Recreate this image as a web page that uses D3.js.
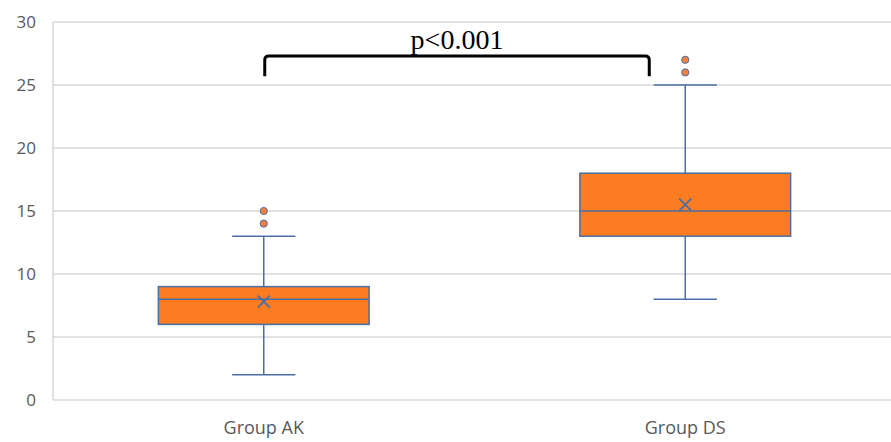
<!DOCTYPE html>
<html>
<head>
<meta charset="utf-8">
<script src="https://cdn.jsdelivr.net/npm/d3@7"></script>
<style>
  body { margin: 0; background: #fff; }
  svg text { font-family: "Open Sans", "Liberation Sans", sans-serif; }
</style>
</head>
<body>
<svg id="chart" width="891" height="442"></svg>
<script>
// box plot summary values
const groups = ["Group AK", "Group DS"];
const whiskerLow = [2, 8];
const q1 = [6, 13];
const median = [8, 15];
const q3 = [9, 18];
const whiskerHigh = [13, 25];
const means = [7.8, 15.5];
const outliers = [[14, 15], [26, 27]];
const yTicks = [0, 5, 10, 15, 20, 25, 30];
const pLabel = "p<0.001";

const margin = {top: 22, left: 53, bottom: 42};
const width = 843, height = 442 - margin.top - margin.bottom;

const svg = d3.select("#chart");
const g = svg.append("g").attr("transform", `translate(${margin.left},${margin.top})`);

const x = d3.scaleBand().domain(groups).range([0, width]).paddingInner(0).paddingOuter(0);
const y = d3.scaleLinear().domain([0, 30]).range([height, 0]);

// gridlines
g.append("g").selectAll("line").data(yTicks).join("line")
    .attr("x1", 0).attr("x2", width)
    .attr("y1", d => y(d)).attr("y2", d => y(d))
    .attr("stroke", "#d9d9d9").attr("stroke-width", 1.5);

g.append("line").attr("x1", 0).attr("x2", 0).attr("y1", 0).attr("y2", height)
    .attr("stroke", "#d9d9d9").attr("stroke-width", 1.5);

const yAxis = d3.axisLeft(y).tickValues(yTicks).tickSize(0).tickPadding(17);
g.append("g").call(yAxis)
    .call(s => s.select(".domain").remove())
    .selectAll("text").attr("fill", "#595959").attr("font-size", 17);

const xAxis = d3.axisBottom(x).tickSize(0).tickPadding(21);
g.append("g").attr("transform", `translate(0,${height})`).call(xAxis)
    .call(s => s.select(".domain").remove())
    .selectAll("text").attr("fill", "#595959").attr("font-size", 18);

const blue = "#4a6fa5", orange = "#fb7c21";
const boxW = x.bandwidth() * 0.5, capW = x.bandwidth() * 0.15;

groups.forEach((grp, i) => {
    const cx = x(grp) + x.bandwidth() / 2;
    const box = g.append("g");
    box.append("line").attr("x1", cx).attr("x2", cx)
        .attr("y1", y(whiskerLow[i])).attr("y2", y(whiskerHigh[i]))
        .attr("stroke", blue).attr("stroke-width", 1.5);
    [whiskerLow[i], whiskerHigh[i]].forEach(v => {
        box.append("line").attr("x1", cx - capW / 2).attr("x2", cx + capW / 2)
            .attr("y1", y(v)).attr("y2", y(v))
            .attr("stroke", blue).attr("stroke-width", 1.5);
    });
    box.append("rect").attr("x", cx - boxW / 2).attr("width", boxW)
        .attr("y", y(q3[i])).attr("height", y(q1[i]) - y(q3[i]))
        .attr("fill", orange).attr("stroke", blue).attr("stroke-width", 1.5);
    box.append("line").attr("x1", cx - boxW / 2).attr("x2", cx + boxW / 2)
        .attr("y1", y(median[i])).attr("y2", y(median[i]))
        .attr("stroke", blue).attr("stroke-width", 1.5);
    const my = y(means[i]), s = 6;
    box.append("path")
        .attr("d", `M${cx - s},${my - s}L${cx + s},${my + s}M${cx - s},${my + s}L${cx + s},${my - s}`)
        .attr("stroke", blue).attr("stroke-width", 1.8);
    box.selectAll("circle").data(outliers[i]).join("circle")
        .attr("cx", cx).attr("cy", d => y(d)).attr("r", 3.6)
        .attr("fill", "#f08040").attr("stroke", blue).attr("stroke-width", 1);
});

// significance bracket
const bx1 = x(groups[0]) + x.bandwidth() / 2 + 1;
const bx2 = x(groups[1]) + x.bandwidth() / 2 - 36;
const by = y(27.3), bb = y(25.7);
g.append("path")
    .attr("d", `M${bx1},${bb}L${bx1},${by + 4}Q${bx1},${by} ${bx1 + 4},${by}L${bx2 - 4},${by}Q${bx2},${by} ${bx2},${by + 4}L${bx2},${bb}`)
    .attr("fill", "none").attr("stroke", "#000").attr("stroke-width", 3);
g.append("text").attr("x", (bx1 + bx2) / 2).attr("y", by - 7)
    .attr("text-anchor", "middle")
    .style("font-family", "'Liberation Serif', 'DejaVu Serif', serif")
    .attr("font-size", 28).text(pLabel);
</script>
</body>
</html>
